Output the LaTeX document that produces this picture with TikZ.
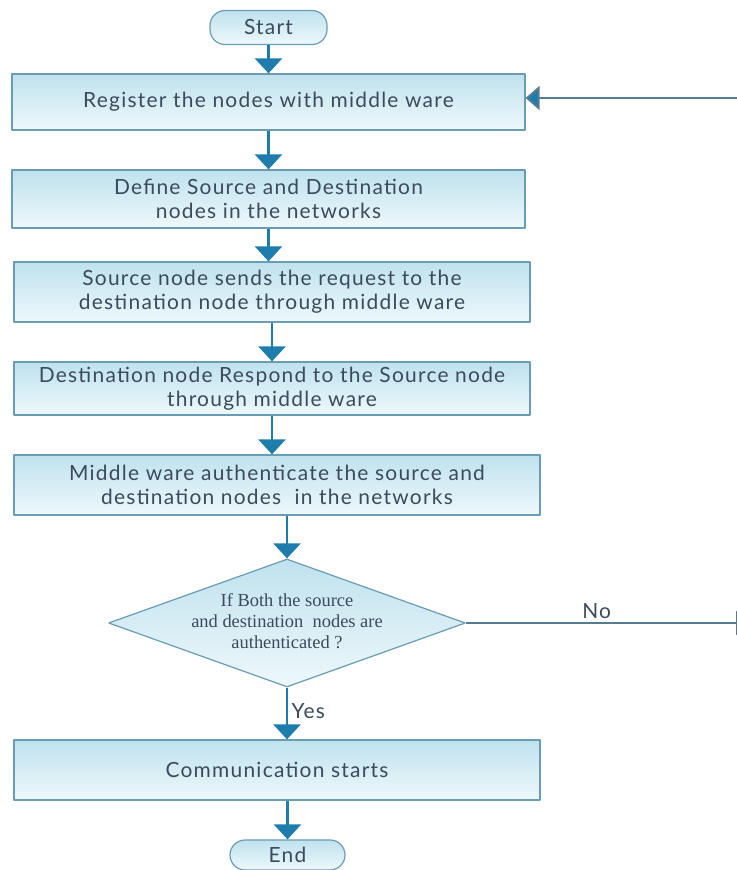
\documentclass[tikz,border=0pt]{standalone}
\usepackage{fontspec}
\setmainfont{Lato}[LetterSpace=6]
\newfontfamily\askfont{Liberation Serif}
\usetikzlibrary{shapes.geometric,arrows.meta}
\definecolor{flowline}{HTML}{1F7DAE}
\definecolor{boxrule}{HTML}{6A9CB4}
\definecolor{boxtop}{HTML}{BFE2EE}
\definecolor{boxbottom}{HTML}{EEF8FB}
\definecolor{boxtext}{HTML}{3B4A5C}
\tikzset{
  process/.style={rectangle,draw=boxrule,line width=1.2bp,top color=boxtop,bottom color=boxbottom,
    inner sep=0pt,align=center,text=boxtext,font=\fontsize{21}{24}\selectfont},
  terminal/.style={process,rounded corners=15bp},
  decision/.style={diamond,draw=boxrule,line width=1.2bp,top color=boxtop,bottom color=boxbottom,inner sep=0pt},
  flow/.style={flowline,line width=2.6bp,-{Triangle[width=27bp,length=15bp]}},
  loopline/.style={boxrule!80!black,line width=2bp,-{Triangle[width=24bp,length=14bp,fill=flowline]}},
  branch/.style={text=boxtext,font=\fontsize{21}{24}\selectfont},
}
\begin{document}
\begin{tikzpicture}[>=latex,line join=bevel,]
\useasboundingbox (0bp,0bp) rectangle (737bp,870bp);
%%
\node (node_0) at (268.5bp,842.5bp) [terminal,minimum width=117bp,minimum height=34bp] {Start};
  \node (node_1) at (268.5bp,768bp) [process,minimum width=513bp,minimum height=56bp] {Register the nodes with middle ware};
  \node (node_2) at (268.5bp,671bp) [process,minimum width=513bp,minimum height=58bp] {Define Source and Destination\\nodes in the networks};
  \node (node_3) at (272bp,578bp) [process,minimum width=516bp,minimum height=60bp] {Source node sends the request to the\\destination node through middle ware};
  \node (node_4) at (272bp,481.5bp) [process,minimum width=516bp,minimum height=53bp] {Destination node Respond to the Source node\\through middle ware};
  \node (node_5) at (277bp,385bp) [process,minimum width=526bp,minimum height=60bp] {Middle ware authenticate the source and\\destination nodes\ \ in the networks};
  \node (node_6) at (287bp,247bp) [decision,minimum width=357bp,minimum height=128bp] {};
  \node (node_6t) at (287bp,249bp) [align=center,text=boxtext,font=\askfont\fontsize{18.5}{21}\selectfont] {If Both the source\\and destination\ \ nodes are\\authenticated ?};
  \node (node_7) at (277bp,100bp) [process,minimum width=526bp,minimum height=60bp] {Communication starts};
  \node (node_8) at (287.5bp,15bp) [terminal,minimum width=115bp,minimum height=30bp] {End};
  \coordinate (no_end) at (750bp,247bp);
  \coordinate (back_start) at (737bp,772bp);
  \draw [flow] (node_0) -- (node_1);
  \draw [flow] (node_1) -- (node_2);
  \draw [flow] (node_2.south) -- (node_2.south |- node_3.north);
  \draw [flow] (node_3.south) -- (node_3.south |- node_4.north);
  \draw [flow] (node_4.south) -- (node_4.south |- node_5.north);
  \draw [flow] (node_6.north |- node_5.south) -- (node_6.north);
  \draw [flow] (node_6.south) -- node [right,pos=0.45,branch] {Yes} (node_6.south |- node_7.north);
  \draw [flow] (node_8.north |- node_7.south) -- (node_8.north);
  \draw [loopline] (node_6.east) -- node [above,pos=0.46,branch] {No} (no_end);
  \draw [loopline] (back_start) -- (node_1.east |- back_start);
%
\end{tikzpicture}
\end{document}
